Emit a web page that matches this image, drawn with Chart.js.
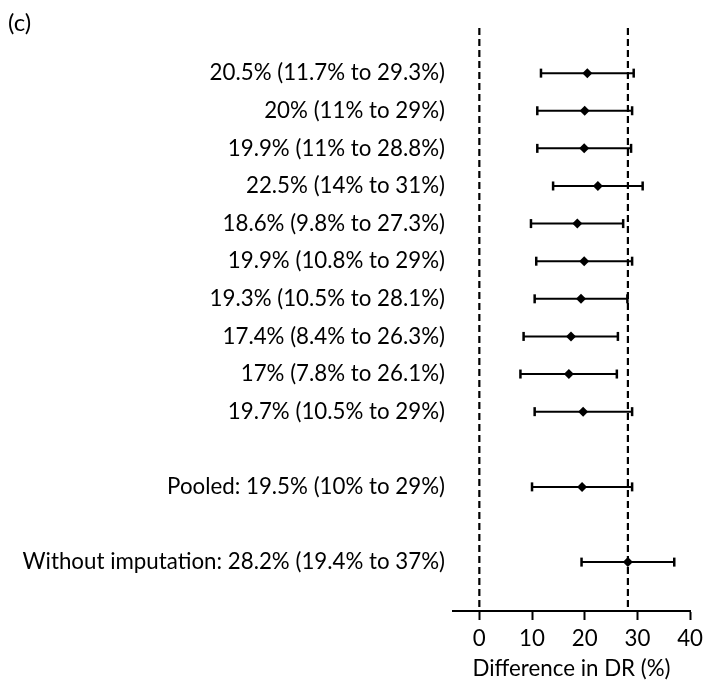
<!DOCTYPE html>
<html>
<head>
<meta charset="utf-8">
<script src="https://cdn.jsdelivr.net/npm/chart.js@4.4.0/dist/chart.umd.min.js"></script>
<style>
  body { margin: 0; background: #fff; }
  #wrap { position: relative; width: 708px; height: 680px; }
  #panel { position: absolute; left: 8px; top: 7px; font: 24px Lato, sans-serif; color: #000; }
</style>
</head>
<body>
<div id="wrap">
  <canvas id="forest" width="708" height="680"></canvas>
  <div id="panel">(c)</div>
</div>
<script>
// rows (y position = row index, gaps left at 10 and 12)
const rowPos = [0, 1, 2, 3, 4, 5, 6, 7, 8, 9, 11, 13];
const rowLabels = [
  '20.5% (11.7% to 29.3%)',
  '20% (11% to 29%)',
  '19.9% (11% to 28.8%)',
  '22.5% (14% to 31%)',
  '18.6% (9.8% to 27.3%)',
  '19.9% (10.8% to 29%)',
  '19.3% (10.5% to 28.1%)',
  '17.4% (8.4% to 26.3%)',
  '17% (7.8% to 26.1%)',
  '19.7% (10.5% to 29%)',
  'Pooled: 19.5% (10% to 29%)',
  'Without imputation: 28.2% (19.4% to 37%)'
];
const estimates = [20.5, 20, 19.9, 22.5, 18.6, 19.9, 19.3, 17.4, 17, 19.7, 19.5, 28.2];
const lower = [11.7, 11, 11, 14, 9.8, 10.8, 10.5, 8.4, 7.8, 10.5, 10, 19.4];
const upper = [29.3, 29, 28.8, 31, 27.3, 29, 28.1, 26.3, 26.1, 29, 29, 37];
const refLines = [0, 28.2];
const xTicks = [0, 10, 20, 30, 40];

const font = { family: 'Lato', size: 22.3 };
const yMin = -1.2, yMax = 14.3;

const datasets = [];
refLines.forEach(v => {
  datasets.push({
    type: 'line',
    data: [{ x: v, y: yMin }, { x: v, y: yMax }],
    borderColor: '#000',
    borderWidth: 2.2,
    borderDash: [7, 4],
    pointRadius: 0
  });
});
rowPos.forEach((p, i) => {
  datasets.push({
    type: 'line',
    data: [{ x: lower[i], y: p }, { x: upper[i], y: p }],
    borderColor: '#000',
    borderWidth: 2,
    pointStyle: 'line',
    pointRotation: 90,
    pointRadius: 4.5,
    pointBorderWidth: 2.5,
    pointBorderColor: '#000'
  });
});
datasets.push({
  type: 'scatter',
  data: rowPos.map((p, i) => ({ x: estimates[i], y: p })),
  pointStyle: 'rectRot',
  pointRadius: 5,
  backgroundColor: '#000',
  borderColor: '#000',
  borderWidth: 0
});

new Chart(document.getElementById('forest'), {
  type: 'scatter',
  data: { datasets },
  options: {
    responsive: false,
    animation: false,
    layout: { padding: { top: 28, right: 14, bottom: 0, left: 0 } },
    plugins: { legend: { display: false }, tooltip: { enabled: false } },
    scales: {
      x: {
        type: 'linear',
        min: -5,
        max: 40,
        afterBuildTicks: s => { s.ticks = xTicks.map(v => ({ value: v })); },
        afterFit: s => { s.height = 69; },
        border: { display: true, color: '#000', width: 2 },
        grid: { drawOnChartArea: false, drawTicks: true, tickLength: 9, tickWidth: 2, color: '#000' },
        ticks: { color: '#000', font, padding: 5, maxRotation: 0 },
        title: { display: true, text: 'Difference in DR (%)', color: '#000', font: { family: 'Lato', size: 22.3, lineHeight: 1 }, padding: { top: 0, bottom: 0 } }
      },
      y: {
        type: 'linear',
        reverse: true,
        min: yMin,
        max: yMax,
        afterBuildTicks: s => { s.ticks = rowPos.map(v => ({ value: v })); },
        afterFit: s => { s.width = 453; },
        border: { display: false },
        grid: { display: false },
        ticks: {
          color: '#000',
          font,
          padding: 0,
          callback: v => rowLabels[rowPos.indexOf(v)]
        }
      }
    }
  }
});
</script>
</body>
</html>
